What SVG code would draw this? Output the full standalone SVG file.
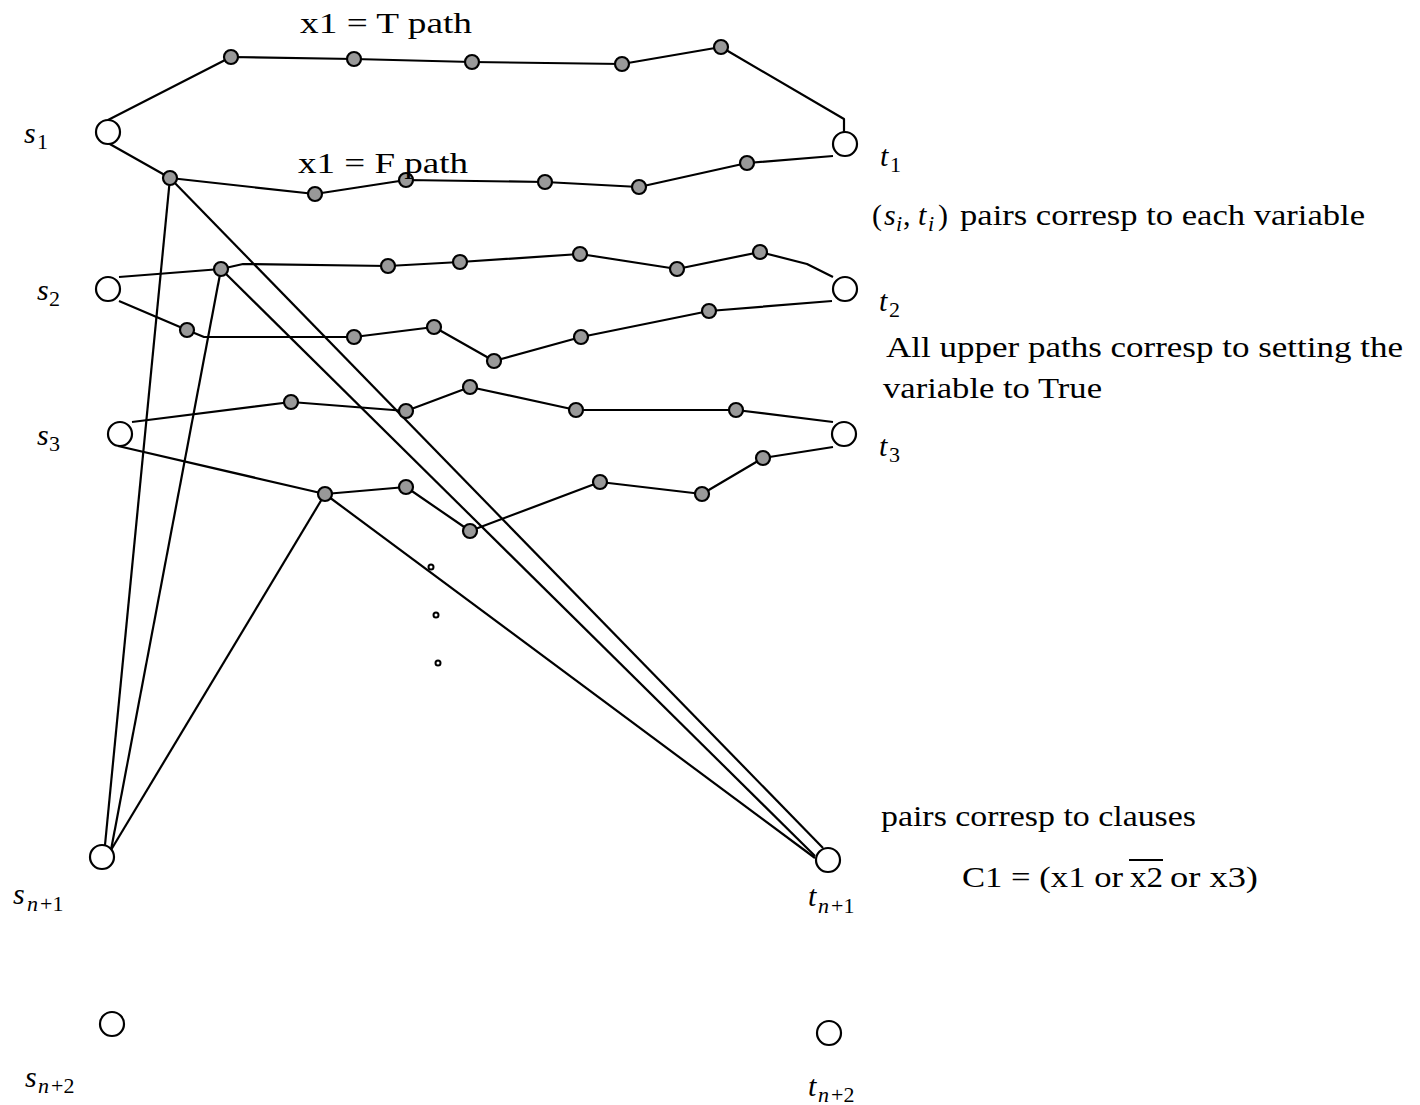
<svg xmlns="http://www.w3.org/2000/svg" width="1420" height="1105" viewBox="0 0 1420 1105">
<style>
.e{fill:none;stroke:#000;stroke-width:2.2;stroke-linejoin:round}
.big{fill:#fff;stroke:#000;stroke-width:2.2}
.sm{fill:#999;stroke:#000;stroke-width:2.2}
.dot{fill:#fff;stroke:#000;stroke-width:2}
text{font-family:"Liberation Serif","Times New Roman",serif;font-size:30px;fill:#000}
.it{font-style:italic}
.sb{font-size:22px}
</style>
<rect width="1420" height="1105" fill="#fff"/>
<g id="connectors">
<polyline class="e" points="108,120 231,57 354,59 472,62 622,64 721,47 844,119 844,132"/>
<polyline class="e" points="108,143 170,178 315,194 406,180 545,182 639,187 747,163 833,156"/>
<polyline class="e" points="119,277 221,269 243,264 388,266 460,262 580,254 677,269 760,252 807,264 833,277"/>
<polyline class="e" points="119,301 187,330 204,337 354,337 434,327 494,361 581,337 709,311 832,301"/>
<polyline class="e" points="132,422 291,402 406,411 470,387 576,410 736,410 833,422"/>
<polyline class="e" points="118,446 325,494 406,487 470,531 600,482 702,494 763,458 833,447"/>
<line class="e" x1="170" y1="178" x2="105" y2="845"/>
<line class="e" x1="170" y1="178" x2="823" y2="848"/>
<line class="e" x1="221" y1="269" x2="111" y2="850"/>
<line class="e" x1="221" y1="269" x2="815" y2="856"/>
<line class="e" x1="325" y1="494" x2="111" y2="850"/>
<line class="e" x1="325" y1="494" x2="815" y2="858"/>
</g>
<g id="path-nodes">
<circle class="sm" cx="231" cy="57" r="7"/><circle class="sm" cx="354" cy="59" r="7"/><circle class="sm" cx="472" cy="62" r="7"/><circle class="sm" cx="622" cy="64" r="7"/><circle class="sm" cx="721" cy="47" r="7"/>
<circle class="sm" cx="170" cy="178" r="7"/><circle class="sm" cx="315" cy="194" r="7"/><circle class="sm" cx="406" cy="180" r="7"/><circle class="sm" cx="545" cy="182" r="7"/><circle class="sm" cx="639" cy="187" r="7"/><circle class="sm" cx="747" cy="163" r="7"/>
<circle class="sm" cx="221" cy="269" r="7"/><circle class="sm" cx="388" cy="266" r="7"/><circle class="sm" cx="460" cy="262" r="7"/><circle class="sm" cx="580" cy="254" r="7"/><circle class="sm" cx="677" cy="269" r="7"/><circle class="sm" cx="760" cy="252" r="7"/>
<circle class="sm" cx="187" cy="330" r="7"/><circle class="sm" cx="354" cy="337" r="7"/><circle class="sm" cx="434" cy="327" r="7"/><circle class="sm" cx="494" cy="361" r="7"/><circle class="sm" cx="581" cy="337" r="7"/><circle class="sm" cx="709" cy="311" r="7"/>
<circle class="sm" cx="291" cy="402" r="7"/><circle class="sm" cx="406" cy="411" r="7"/><circle class="sm" cx="470" cy="387" r="7"/><circle class="sm" cx="576" cy="410" r="7"/><circle class="sm" cx="736" cy="410" r="7"/>
<circle class="sm" cx="325" cy="494" r="7"/><circle class="sm" cx="406" cy="487" r="7"/><circle class="sm" cx="470" cy="531" r="7"/><circle class="sm" cx="600" cy="482" r="7"/><circle class="sm" cx="702" cy="494" r="7"/><circle class="sm" cx="763" cy="458" r="7"/>
</g>
<g id="dots">
<circle class="dot" cx="431" cy="567" r="2.5"/><circle class="dot" cx="436" cy="615" r="2.5"/><circle class="dot" cx="438" cy="663" r="2.5"/>
</g>
<g id="s1"><circle class="big" cx="108" cy="132" r="12"/><text><tspan class="it" x="24" y="143">s</tspan><tspan class="sb" x="37" y="149">1</tspan></text></g>
<g id="t1"><circle class="big" cx="845" cy="144" r="12"/><text><tspan class="it" x="880" y="166">t</tspan><tspan class="sb" x="890" y="172">1</tspan></text></g>
<g id="s2"><circle class="big" cx="108" cy="289" r="12"/><text><tspan class="it" x="37" y="300">s</tspan><tspan class="sb" x="49" y="306">2</tspan></text></g>
<g id="t2"><circle class="big" cx="845" cy="289" r="12"/><text><tspan class="it" x="879" y="311">t</tspan><tspan class="sb" x="889" y="317">2</tspan></text></g>
<g id="s3"><circle class="big" cx="120" cy="434" r="12"/><text><tspan class="it" x="37" y="445">s</tspan><tspan class="sb" x="49" y="451">3</tspan></text></g>
<g id="t3"><circle class="big" cx="844" cy="434" r="12"/><text><tspan class="it" x="879" y="456">t</tspan><tspan class="sb" x="889" y="462">3</tspan></text></g>
<g id="sn1"><circle class="big" cx="102" cy="857" r="12"/><text><tspan class="it" x="13" y="904">s</tspan><tspan class="sb it" x="27" y="911">n</tspan><tspan class="sb" dx="2">+1</tspan></text></g>
<g id="tn1"><circle class="big" cx="828" cy="860" r="12"/><text><tspan class="it" x="808" y="906">t</tspan><tspan class="sb it" x="818" y="913">n</tspan><tspan class="sb" dx="2">+1</tspan></text></g>
<g id="sn2"><circle class="big" cx="112" cy="1024" r="12"/><text><tspan class="it" x="25" y="1087">s</tspan><tspan class="sb it" x="38" y="1093">n</tspan><tspan class="sb" dx="2">+2</tspan></text></g>
<g id="tn2"><circle class="big" cx="829" cy="1033" r="12"/><text><tspan class="it" x="808" y="1096">t</tspan><tspan class="sb it" x="818" y="1102">n</tspan><tspan class="sb" dx="2">+2</tspan></text></g>
<g id="labels">
<text x="300" y="33" textLength="172" lengthAdjust="spacingAndGlyphs">x1 = T path</text>
<text x="298" y="173" textLength="170" lengthAdjust="spacingAndGlyphs">x1 = F path</text>
<text><tspan x="872" y="225">(</tspan><tspan class="it" x="884" y="225">s</tspan><tspan class="sb it" x="896" y="231">i</tspan><tspan x="903" y="225">,</tspan><tspan class="it" x="918" y="225">t</tspan><tspan class="sb it" x="928" y="231">i</tspan><tspan x="938" y="225">)</tspan></text>
<text x="960" y="225" textLength="405" lengthAdjust="spacingAndGlyphs">pairs corresp to each variable</text>
<text x="886" y="357" textLength="517" lengthAdjust="spacingAndGlyphs">All upper paths corresp to setting the</text>
<text x="883" y="398" textLength="219" lengthAdjust="spacingAndGlyphs">variable to True</text>
<text x="881" y="826" textLength="315" lengthAdjust="spacingAndGlyphs">pairs corresp to clauses</text>
<text x="962" y="887" textLength="161" lengthAdjust="spacingAndGlyphs">C1 = (x1 or</text>
<text x="1130" y="887" textLength="33" lengthAdjust="spacingAndGlyphs">x2</text>
<line x1="1129" y1="860" x2="1163" y2="860" stroke="#000" stroke-width="2"/>
<text x="1170" y="887" textLength="88" lengthAdjust="spacingAndGlyphs">or x3)</text>
</g>
</svg>
